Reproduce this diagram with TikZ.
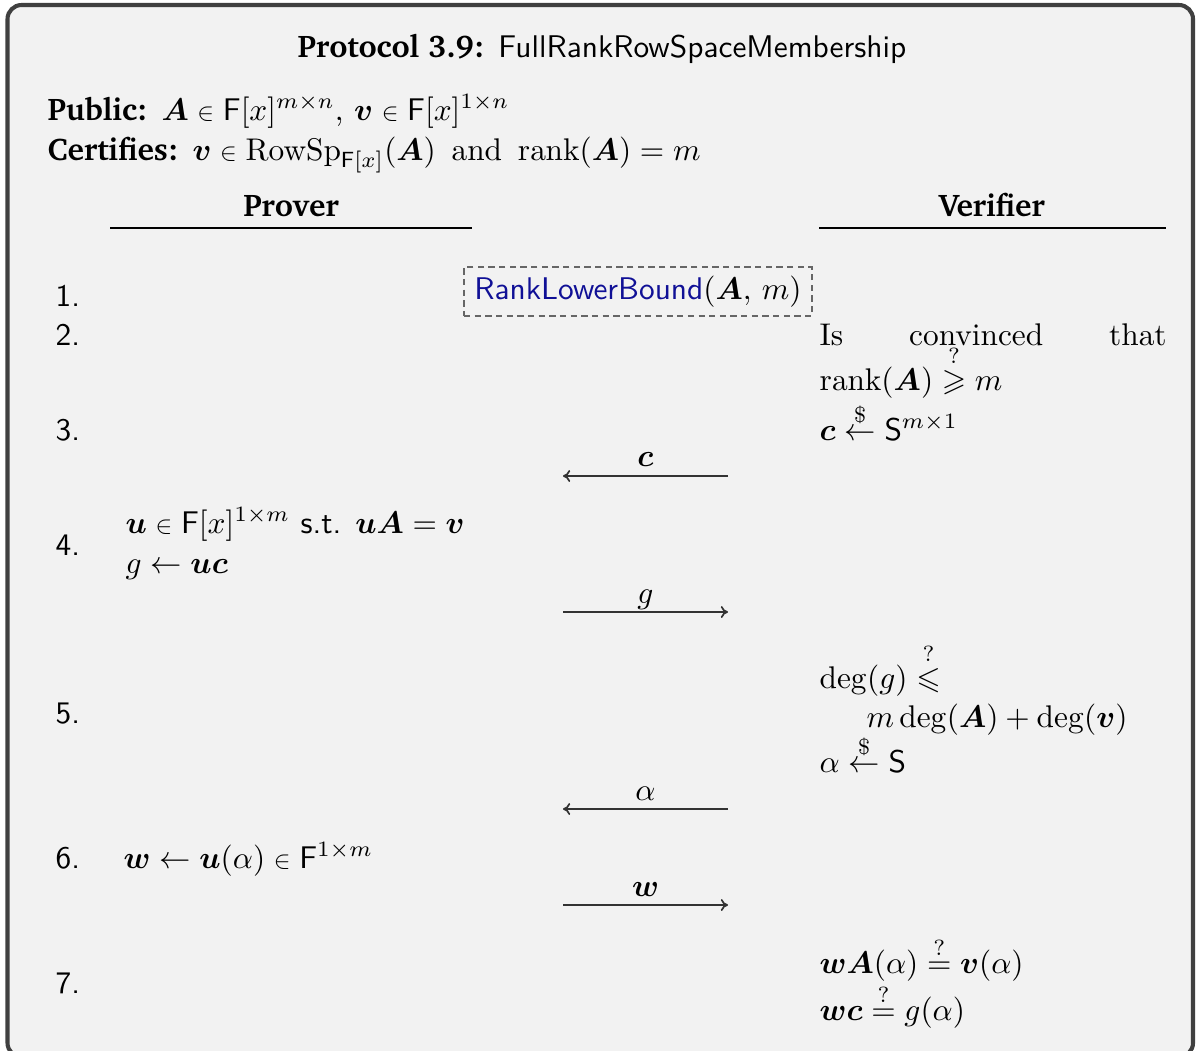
\documentclass[tikz,border=0pt]{standalone}
\usepackage[T1,TU]{fontenc}
\usepackage{amsmath,amssymb,bm}
\usepackage{graphicx}
\usetikzlibrary{arrows.meta}
\definecolor{bgc}{HTML}{F2F2F2}
\definecolor{framec}{HTML}{404040}
\definecolor{rlbc}{RGB}{16,16,150}
\newcommand{\chb}{\fontencoding{T1}\fontfamily{bch}\fontseries{b}\selectfont}
\newcommand{\myin}{\mathrel{\scalebox{0.8}{$\in$}}}
\begin{document}
\begin{tikzpicture}[x=0.319pt,y=-0.319pt,
  txt/.style={inner sep=0pt, anchor=base west},
  ctxt/.style={inner sep=0pt, anchor=base},
  num/.style={inner sep=0pt, anchor=base west, font=\sffamily},
  rule/.style={line width=0.4pt, black},
  msg/.style={line width=0.55pt, black!80, -{To[length=2.3pt,width=3.8pt]}},
  lbl/.style={midway, above, inner sep=0pt, yshift=2.6pt, text depth=0pt, text=black}]
\useasboundingbox (0,0) rectangle (1199,1050);
\draw[framec, line width=1.3pt, fill=bgc, rounded corners=4.5pt] (7.5,5) rectangle (1193,1057);

% title and header
\node[ctxt] (title) at (602,57) {{\chb Protocol 3.9:} \textsf{FullRankRowSpaceMembership}};
\node[txt] (pub) at (47,120) {{\chb Public:} $\bm A \myin \mathsf F[x]^{m\times n}$, $\bm v \myin \mathsf F[x]^{1\times n}$};
\node[txt] (cert) at (47,160) {{\chb Certifies:} $\bm v \myin \operatorname{RowSp}_{\mathsf F[x]}(\bm A)$\enspace and\enspace $\operatorname{rank}(\bm A) = m$};

% column headings
\node[ctxt] (prover) at (291,216) {\chb Prover};
\node[ctxt] (verifier) at (992,216) {\chb Verifier};
\coordinate (pl) at (110,228); \coordinate (pr) at (472,228);
\coordinate (vl) at (819,228); \coordinate (vr) at (1166,228);
\draw[rule] (pl) -- (pr);
\draw[rule] (vl) -- (vr);

% step numbers
\node[num] (n1) at (55,306) {1.};
\node[num] (n2) at (55,345) {2.};
\node[num] (n3) at (55,440) {3.};
\node[num] (n4) at (55,555) {4.};
\node[num] (n5) at (55,723) {5.};
\node[num] (n6) at (55,868) {6.};
\node[num] (n7) at (55,993) {7.};

% step 1
\node[draw=black!60, dash pattern=on 2pt off 1.4pt, line width=0.4pt, inner sep=0pt,
      minimum width=111pt, minimum height=15.6pt] (rlb) at (638,291.5)
  {\textsf{\color{rlbc}RankLowerBound}$(\bm A,\, m)$};

% step 2-3 verifier
\node[txt] (v2a) at (819,345) {\hbox to 110.7pt{Is\hfil convinced\hfil that}};
\node[txt] (v2b) at (819,390) {$\operatorname{rank}(\bm A) \stackrel{?}{\geqslant} m$};
\node[txt] (v3) at (819,440) {$\bm c \stackrel{\$}{\leftarrow} \mathsf S^{m\times 1}$};

% message c
\coordinate (cR) at (728,476); \coordinate (cL) at (563,476);
\draw[msg] (cR) -- (cL) node[lbl] (lc) {$\bm c$};

% step 4 prover
\node[txt] (p4a) at (125,533) {$\bm u \myin \mathsf F[x]^{1\times m}$ \textsf{s.t.} $\bm u\bm A = \bm v$};
\node[txt] (p4b) at (125,573) {$g \leftarrow \bm u\bm c$};

% message g
\coordinate (gL) at (563,612); \coordinate (gR) at (728,612);
\draw[msg] (gL) -- (gR) node[lbl] (lg) {$g$};

% step 5 verifier
\node[txt] (v5a) at (819,688) {$\deg(g) \stackrel{?}{\leqslant}$};
\node[txt] (v5b) at (866,727) {$m\deg(\bm A) + \deg(\bm v)$};
\node[txt] (v5c) at (819,772) {$\alpha \stackrel{\$}{\leftarrow} \mathsf S$};

% message alpha
\coordinate (aR) at (728,809); \coordinate (aL) at (563,809);
\draw[msg] (aR) -- (aL) node[lbl] (la) {$\alpha$};

% step 6 prover
\node[txt] (p6) at (123,868) {$\bm w \leftarrow \bm u(\alpha) \myin \mathsf F^{1\times m}$};

% message w
\coordinate (wL) at (563,905); \coordinate (wR) at (728,905);
\draw[msg] (wL) -- (wR) node[lbl] (lw) {$\bm w$};

% step 7 verifier
\node[txt] (v7a) at (819,973) {$\bm w\bm A(\alpha) \stackrel{?}{=} \bm v(\alpha)$};
\node[txt] (v7b) at (819,1020) {$\bm w\bm c \stackrel{?}{=} g(\alpha)$};
\end{tikzpicture}
\end{document}
